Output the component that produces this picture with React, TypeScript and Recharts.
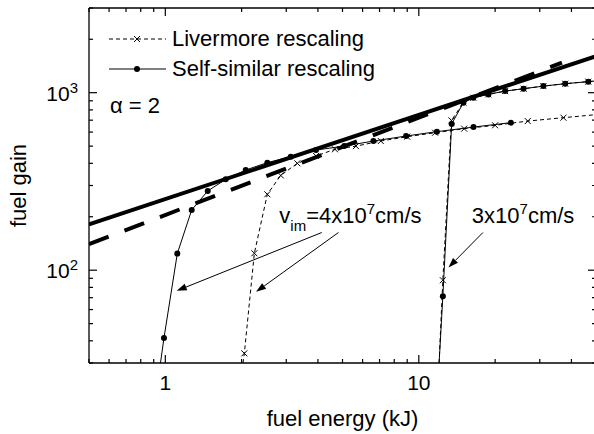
import { Legend, Line, LineChart, ReferenceDot, ReferenceLine, XAxis, YAxis } from "recharts"

const FONT = "'Liberation Sans', Arial, Helvetica, sans-serif"

// fuel energy (kJ) and fuel gain
const powerLawEnergy = [0.5, 50]
const powerLawGain = [181, 1607]

const fitEnergy = [0.5, 36.7]
const fitGain = [140, 1475]

// v_im = 4x10^7 cm/s
const livermore4Energy = [1.99, 2.05, 2.245, 2.526, 2.854, 3.318, 3.933, 4.67, 5.65, 7.08, 9.0, 11.6, 15.1, 20.0, 26.9, 37.2, 52]
const livermore4Gain = [25, 34, 124.6, 267.7, 342, 400, 440, 480, 500, 534, 565, 595, 627, 655, 692, 723, 756]

const selfSimilar4Energy = [0.94, 0.988, 1.115, 1.271, 1.47, 1.731, 2.076, 2.526, 3.125, 3.93, 5.08, 6.62, 8.91, 11.78, 16.43, 23.07]
const selfSimilar4Gain = [25, 41.5, 124, 218.5, 279.5, 325, 366.7, 403.6, 436, 475, 500.6, 534, 570, 603, 640, 678]

// v_im = 3x10^7 cm/s
const livermore3Energy = [11.95, 12.44, 13.45, 15.0, 16.4, 18.8, 21.9, 25.9, 31.0, 37.8, 46.6, 55]
const livermore3Gain = [25, 87.8, 698, 879, 937, 978, 1021, 1053, 1089, 1124, 1154, 1178]

const selfSimilar3Energy = [11.94, 12.44, 13.48, 15.0, 16.4, 18.8, 21.9, 25.9, 31.0, 37.8, 46.6, 55]
const selfSimilar3Gain = [25, 71.4, 667, 879, 937, 978, 1021, 1053, 1089, 1124, 1154, 1178]

const xTicks = [0.5, 0.6, 0.7, 0.8, 0.9, 1, 2, 3, 4, 5, 6, 7, 8, 9, 10, 20, 30, 40, 50]
const yTicks = [30, 40, 50, 60, 70, 80, 90, 100, 200, 300, 400, 500, 600, 700, 800, 900, 1000, 2000, 3000]
const xMajor = [1, 10]
const yMajor = [100, 1000]

const zip = (xs: number[], ys: number[]) => xs.map((x, i) => ({ x, y: ys[i] }))

function BottomTick({ x, y, payload }: any) {
  const major = xMajor.includes(payload.value)
  return (
    <g>
      <line x1={x} y1={y} x2={x} y2={y - (major ? 8 : 4)} stroke="#000" strokeWidth={1.2} />
      {major && (
        <text x={x} y={y + 27} textAnchor="middle" fontSize={21} fontFamily={FONT} fill="#000">
          {payload.value}
        </text>
      )}
    </g>
  )
}

function TopTick({ x, y, payload }: any) {
  const major = xMajor.includes(payload.value)
  return <line x1={x} y1={y} x2={x} y2={y + (major ? 8 : 4)} stroke="#000" strokeWidth={1.2} />
}

function LeftTick({ x, y, payload }: any) {
  const major = yMajor.includes(payload.value)
  return (
    <g>
      <line x1={x} y1={y} x2={x + (major ? 8 : 4)} y2={y} stroke="#000" strokeWidth={1.2} />
      {major && (
        <text x={x - 11} y={y + 8} textAnchor="end" fontSize={21} fontFamily={FONT} fill="#000">
          10
          <tspan dy={-8} fontSize={15}>
            {Math.round(Math.log10(payload.value))}
          </tspan>
        </text>
      )}
    </g>
  )
}

function RightTick({ x, y, payload }: any) {
  const major = yMajor.includes(payload.value)
  return <line x1={x} y1={y} x2={x - (major ? 8 : 4)} y2={y} stroke="#000" strokeWidth={1.2} />
}

function Cross({ cx, cy }: any) {
  if (cx == null || cy == null) return <g />
  return (
    <path
      d={`M${cx - 3},${cy - 3}L${cx + 3},${cy + 3}M${cx - 3},${cy + 3}L${cx + 3},${cy - 3}`}
      stroke="#000"
      strokeWidth={1}
      fill="none"
    />
  )
}

function Arrow({ x1, y1, x2, y2 }: any) {
  const a = Math.atan2(y2 - y1, x2 - x1)
  const bx = x2 - 10 * Math.cos(a)
  const by = y2 - 10 * Math.sin(a)
  const px = -Math.sin(a) * 3.5
  const py = Math.cos(a) * 3.5
  return (
    <g>
      <line x1={x1} y1={y1} x2={bx} y2={by} stroke="#000" strokeWidth={1} />
      <polygon points={`${x2},${y2} ${bx + px},${by + py} ${bx - px},${by - py}`} fill="#000" />
    </g>
  )
}

function LegendBox() {
  return (
    <div style={{ fontFamily: FONT, fontSize: 22, color: "#000", lineHeight: "30px" }}>
      <div style={{ display: "flex", alignItems: "center", height: 30, whiteSpace: "nowrap" }}>
        <svg width={57} height={30}>
          <line x1={0} y1={15} x2={57} y2={15} stroke="#000" strokeDasharray="4 3" />
          <Cross cx={28} cy={15} />
        </svg>
        <span style={{ marginLeft: 6 }}>Livermore rescaling</span>
      </div>
      <div style={{ display: "flex", alignItems: "center", height: 30, whiteSpace: "nowrap" }}>
        <svg width={57} height={30}>
          <line x1={0} y1={15} x2={57} y2={15} stroke="#000" />
          <circle cx={28} cy={15} r={3} fill="#000" />
        </svg>
        <span style={{ marginLeft: 6 }}>Self-similar rescaling</span>
      </div>
    </div>
  )
}

export default function App() {
  const axisLine = { stroke: "#000", strokeWidth: 1.3 }
  return (
    <div style={{ position: "absolute", left: 0, top: 0, width: 594, height: 434, overflow: "hidden", background: "#fff" }}>
      <LineChart width={600} height={434} margin={{ top: 7, right: 3, bottom: 0, left: 0 }}>
        <XAxis
          type="number"
          dataKey="x"
          scale="log"
          domain={[0.5, 50]}
          allowDataOverflow
          ticks={xTicks}
          interval={0}
          tickLine={false}
          tickSize={0}
          tickMargin={0}
          tick={<BottomTick />}
          axisLine={axisLine}
          height={71}
          label={{
            content: ({ viewBox }: any) => (
              <text x={viewBox.x + viewBox.width / 2} y={viewBox.y + 63} textAnchor="middle" fontSize={22} fontFamily={FONT} fill="#000">
                fuel energy (kJ)
              </text>
            ),
          }}
        />
        <XAxis
          xAxisId="top"
          orientation="top"
          type="number"
          dataKey="x"
          scale="log"
          domain={[0.5, 50]}
          allowDataOverflow
          ticks={xTicks}
          interval={0}
          tickLine={false}
          tickSize={0}
          tickMargin={0}
          tick={<TopTick />}
          axisLine={axisLine}
          height={1}
        />
        <YAxis
          type="number"
          dataKey="y"
          scale="log"
          domain={[30, 3000]}
          allowDataOverflow
          ticks={yTicks}
          interval={0}
          tickLine={false}
          tickSize={0}
          tickMargin={0}
          tick={<LeftTick />}
          axisLine={axisLine}
          width={89}
          label={{
            content: ({ viewBox }: any) => {
              const cx = viewBox.x + 25.5
              const cy = viewBox.y + viewBox.height / 2
              return (
                <text x={cx} y={cy} transform={`rotate(-90 ${cx} ${cy})`} textAnchor="middle" fontSize={22} fontFamily={FONT} fill="#000">
                  fuel gain
                </text>
              )
            },
          }}
        />
        <YAxis
          yAxisId="right"
          orientation="right"
          type="number"
          dataKey="y"
          scale="log"
          domain={[30, 3000]}
          allowDataOverflow
          ticks={yTicks}
          interval={0}
          tickLine={false}
          tickSize={0}
          tickMargin={0}
          tick={<RightTick />}
          axisLine={axisLine}
          width={1}
        />
        <Legend
          layout="vertical"
          align="center"
          verticalAlign="middle"
          wrapperStyle={{ left: 109, top: 24, width: "auto" }}
          content={() => <LegendBox />}
        />

        {/* power law drawn on the mirrored axes so the top and right frames get their ticks */}
        <Line
          xAxisId="top"
          yAxisId="right"
          data={zip(powerLawEnergy, powerLawGain)}
          dataKey="y"
          stroke="#000"
          strokeWidth={4}
          dot={false}
          isAnimationActive={false}
        />
        <Line data={zip(fitEnergy, fitGain)} dataKey="y" stroke="#000" strokeWidth={4} strokeDasharray="21 17" dot={false} isAnimationActive={false} />

        <Line
          data={zip(livermore4Energy, livermore4Gain)}
          dataKey="y"
          stroke="#000"
          strokeWidth={1}
          strokeDasharray="4 3"
          dot={(p: any) => <Cross key={`l4-${p.index}`} cx={p.cx} cy={p.cy} />}
          isAnimationActive={false}
        />
        <Line
          data={zip(livermore3Energy, livermore3Gain)}
          dataKey="y"
          stroke="#000"
          strokeWidth={1}
          strokeDasharray="4 3"
          dot={(p: any) => <Cross key={`l3-${p.index}`} cx={p.cx} cy={p.cy} />}
          isAnimationActive={false}
        />
        <Line
          data={zip(selfSimilar4Energy, selfSimilar4Gain)}
          dataKey="y"
          stroke="#000"
          strokeWidth={1}
          dot={{ r: 3, fill: "#000", stroke: "none" }}
          isAnimationActive={false}
        />
        <Line
          data={zip(selfSimilar3Energy, selfSimilar3Gain)}
          dataKey="y"
          stroke="#000"
          strokeWidth={1}
          dot={{ r: 3, fill: "#000", stroke: "none" }}
          isAnimationActive={false}
        />

        <ReferenceLine segment={[{ x: 4.14, y: 163 }, { x: 1.109, y: 76.5 }]} shape={(p: any) => <Arrow {...p} />} />
        <ReferenceLine segment={[{ x: 4.82, y: 163 }, { x: 2.28, y: 75.5 }]} shape={(p: any) => <Arrow {...p} />} />
        <ReferenceLine segment={[{ x: 17.9, y: 163 }, { x: 13.09, y: 103.6 }]} shape={(p: any) => <Arrow {...p} />} />

        <ReferenceDot
          x={0.605}
          y={764}
          r={1}
          shape={(p: any) => (
            <text x={p.cx} y={p.cy} fontSize={22} fontFamily={FONT} fill="#000">
              α = 2
            </text>
          )}
        />
        <ReferenceDot
          x={2.818}
          y={185.5}
          r={1}
          shape={(p: any) => (
            <text x={p.cx} y={p.cy} fontSize={22} fontFamily={FONT} fill="#000">
              v<tspan dy={8} fontSize={15}>im</tspan>
              <tspan dy={-8}>=4x10</tspan>
              <tspan dy={-9} fontSize={15}>7</tspan>
              <tspan dy={9}>cm/s</tspan>
            </text>
          )}
        />
        <ReferenceDot
          x={16.19}
          y={185.5}
          r={1}
          shape={(p: any) => (
            <text x={p.cx} y={p.cy} fontSize={22} fontFamily={FONT} fill="#000">
              3x10<tspan dy={-9} fontSize={15}>7</tspan>
              <tspan dy={9}>cm/s</tspan>
            </text>
          )}
        />
      </LineChart>
    </div>
  )
}
